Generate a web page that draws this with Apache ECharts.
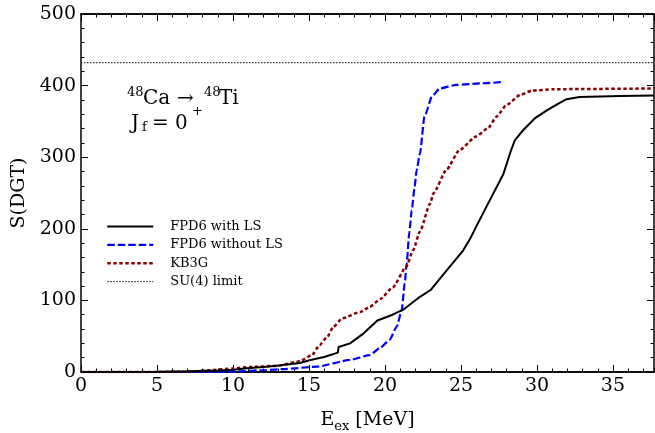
<!DOCTYPE html>
<html>
<head>
<meta charset="utf-8">
<script src="https://cdn.jsdelivr.net/npm/echarts@6/dist/echarts.min.js"></script>
<style>
html,body{margin:0;padding:0;background:#fff;}
#chart{width:655px;height:433px;}
</style>
</head>
<body>
<div id="chart"></div>
<script>
// ---- data ----
const fpd6LS_E = [0, 5, 7, 9, 10, 11.1, 12, 13, 14.4, 15.1, 16, 16.9, 16.95, 17.7, 18.6, 19.5, 20.5, 21.2, 22.3, 23.0, 24.06, 25.15, 25.6, 26.0, 26.9, 27.8, 28.3, 28.55, 29.1, 29.9, 30.7, 31.5, 31.95, 32.8, 35.5, 37.7];
const fpd6LS_S = [0, 0.5, 1, 2, 3, 5.5, 7, 9, 12.6, 16.8, 21, 27, 35, 40, 54, 72, 80, 87, 105, 114.5, 142, 170, 186, 203, 240, 277, 310, 324, 338, 355, 366, 376, 381, 384, 385.5, 386];

const fpd6noLS_E = [0, 8, 10, 12.2, 13.3, 15.5, 17.7, 19.0, 19.7, 20.3, 20.77, 21.1, 21.3, 21.43, 21.6, 21.76, 21.95, 22.08, 22.3, 22.6, 23.1, 23.6, 24.7, 26.25, 27.8];
const fpd6noLS_S = [0, 0, 0.5, 2.8, 4, 7.4, 16.8, 23.7, 34, 44.7, 63, 86, 124, 152, 195, 226, 258, 282, 305, 357, 385, 396, 401, 403, 405];

const kb3g_E = [0, 5, 7.2, 8.5, 10, 11.1, 12.9, 14.4, 15.2, 15.7, 16.2, 16.6, 17.2, 18.4, 19.0, 19.7, 20.5, 21.4, 21.85, 22.3, 22.96, 23.2, 24.06, 24.9, 26.0, 26.8, 27.35, 28.0, 28.9, 29.65, 31.1, 37.7];
const kb3g_S = [0, 0, 0.5, 2.5, 5, 7, 8.5, 15, 23.7, 37.7, 49, 63, 75, 84, 91, 102, 118, 147, 170, 196, 235, 250, 283, 310, 329, 341, 357, 373, 387, 393, 395, 396];

const su4_E = [0, 37.7];
const su4_S = [432, 432];

const seriesNames = ['FPD6 with LS', 'FPD6 without LS', 'KB3G', 'SU(4) limit'];
const xTicks = [0, 5, 10, 15, 20, 25, 30, 35];
const yTicks = [0, 100, 200, 300, 400, 500];

const X_MIN = 0, X_MAX = 37.7, Y_MIN = 0, Y_MAX = 500;

function pairs(xs, ys) { return xs.map((x, i) => [x, ys[i]]); }

const FONT = 'DejaVu Serif';
const chart = echarts.init(document.getElementById('chart'), null, {renderer: 'canvas'});

function xAx(pos, interval, len, labels) {
  return {
    type: 'value', position: pos, min: X_MIN, max: X_MAX, interval: interval,
    axisLine: {show: true, onZero: false, lineStyle: {color: '#000', width: 1.5}},
    axisTick: {show: true, inside: true, length: len, lineStyle: {color: '#000', width: 1}},
    axisLabel: labels ? {show: true, margin: 5, color: '#000', fontFamily: FONT, fontSize: 19, showMaxLabel: false,
      formatter: v => (xTicks.indexOf(v) >= 0 ? String(v) : '')} : {show: false},
    splitLine: {show: false}
  };
}
function yAx(pos, labels) {
  return {
    type: 'value', position: pos, min: Y_MIN, max: Y_MAX, interval: 100,
    axisLine: {show: true, onZero: false, lineStyle: {color: '#000', width: 1.5}},
    axisTick: {show: true, inside: true, length: 7, lineStyle: {color: '#000', width: 1}},
    minorTick: {show: true, splitNumber: 5, length: 3.5, lineStyle: {color: '#000', width: 1}},
    axisLabel: labels ? {show: true, margin: 5, color: '#000', fontFamily: FONT, fontSize: 19,
      formatter: v => (yTicks.indexOf(v) >= 0 ? String(v) : '')} : {show: false},
    splitLine: {show: false},
    name: labels ? 'S(DGT)' : '', nameLocation: 'middle', nameGap: 50, nameRotate: 90,
    nameTextStyle: {color: '#000', fontFamily: FONT, fontSize: 19}
  };
}

const xMain = xAx('bottom', 5, 7, true);
xMain.name = '{a|E}{b|ex}{a| [MeV]}';
xMain.nameLocation = 'middle';
xMain.nameGap = 36;
xMain.nameTextStyle = {color: '#000', fontFamily: FONT, fontSize: 19,
  rich: {a: {fontFamily: FONT, fontSize: 19, color: '#000', verticalAlign: 'bottom', lineHeight: 22},
         b: {fontFamily: FONT, fontSize: 13, color: '#000', verticalAlign: 'bottom', lineHeight: 22, padding: [0, 0, -3, 0]}}};

const hideSym = {opacity: 0};
const option = {
  backgroundColor: '#fff',
  animation: false,
  grid: {left: 81, right: 1, top: 14, bottom: 61, containLabel: false, outerBoundsMode: 'none'},
  xAxis: [xMain, xAx('top', 5, 7, false), xAx('bottom', 1, 3.5, false), xAx('top', 1, 3.5, false)],
  yAxis: [yAx('left', true), yAx('right', false)],
  legend: {
    orient: 'vertical', left: 101, top: 215, itemWidth: 46, itemHeight: 13, itemGap: 5.4,
    textStyle: {color: '#000', fontFamily: FONT, fontSize: 13, padding: [0, 0, 0, 12]},
    data: [
      {name: seriesNames[0], itemStyle: hideSym, lineStyle: {color: '#000', width: 2, type: 'solid'}},
      {name: seriesNames[1], itemStyle: hideSym, lineStyle: {color: '#0000ff', width: 2.2, type: [7.5, 3]}},
      {name: seriesNames[2], itemStyle: hideSym, lineStyle: {color: '#8b0000', width: 2.5, type: [3.5, 2.5]}},
      {name: seriesNames[3], itemStyle: hideSym, lineStyle: {color: '#000', width: 1, type: [1.5, 1.5]}}
    ]
  },
  series: [
    {name: seriesNames[0], type: 'line', data: pairs(fpd6LS_E, fpd6LS_S), symbol: 'none', z: 4,
     lineStyle: {color: '#000', width: 2, type: 'solid'}, itemStyle: {color: '#000'}},
    {name: seriesNames[1], type: 'line', data: pairs(fpd6noLS_E, fpd6noLS_S), symbol: 'none', z: 3,
     smooth: 0.2, smoothMonotone: 'x',
     lineStyle: {color: '#0000ff', width: 2.2, type: [7.5, 3]}, itemStyle: {color: '#0000ff'}},
    {name: seriesNames[2], type: 'line', data: pairs(kb3g_E, kb3g_S), symbol: 'none', z: 3,
     smooth: 0.2, smoothMonotone: 'x',
     lineStyle: {color: '#8b0000', width: 2.5, type: [3.5, 2.5]}, itemStyle: {color: '#8b0000'}},
    {name: seriesNames[3], type: 'line', data: pairs(su4_E, su4_S), symbol: 'none', z: 2,
     lineStyle: {color: '#000', width: 1, type: [1.5, 1.5]}, itemStyle: {color: '#000'}}
  ],
  graphic: [
    {type: 'text', left: 127, top: 86, style: {text: '48', fontFamily: FONT, fontSize: 13, fill: '#000'}},
    {type: 'text', left: 143, top: 89, style: {text: 'Ca', fontFamily: FONT, fontSize: 20, fill: '#000'}},
    {type: 'text', left: 177, top: 89, style: {text: '\u2192', fontFamily: FONT, fontSize: 20, fill: '#000'}},
    {type: 'text', left: 204, top: 86, style: {text: '48', fontFamily: FONT, fontSize: 13, fill: '#000'}},
    {type: 'text', left: 219, top: 89, style: {text: 'Ti', fontFamily: FONT, fontSize: 20, fill: '#000'}},
    {type: 'text', left: 131, top: 114, style: {text: 'J', fontFamily: FONT, fontSize: 20, fill: '#000'}},
    {type: 'text', left: 142, top: 121, style: {text: 'f', fontFamily: FONT, fontSize: 13, fill: '#000'}},
    {type: 'text', left: 152, top: 114, style: {text: '= 0', fontFamily: FONT, fontSize: 20, fill: '#000'}},
    {type: 'text', left: 192, top: 105, style: {text: '+', fontFamily: FONT, fontSize: 13, fill: '#000'}}
  ]
};
chart.setOption(option);
</script>
</body>
</html>
